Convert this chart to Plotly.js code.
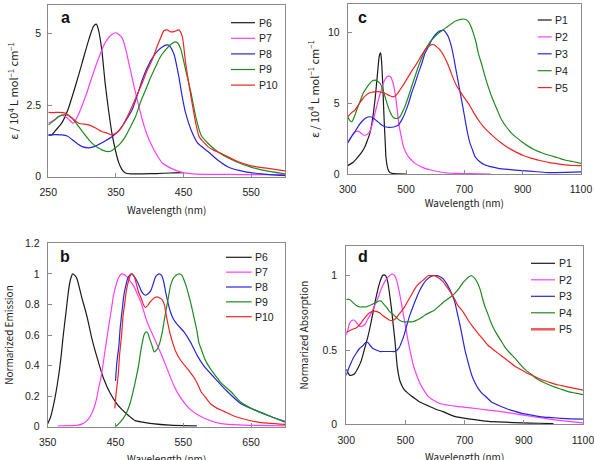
<!DOCTYPE html>
<html>
<head>
<meta charset="utf-8">
<script src="https://cdn.plot.ly/plotly-3.0.1.min.js"></script>
<style>html,body{margin:0;padding:0;background:#fff;}#chart{width:594px;height:460px;}</style>
</head>
<body>
<div id="chart"></div>
<script>
// ---------- Panel a : molar absorptivity (x10^4 L mol-1 cm-1), P6-P10 ----------
const aP6 = [[250,1.45],[255,1.46],[262,1.65],[270,1.88],[279,2.34],[290,3.16],[300,3.98],[310,4.8],[317,5.26],[321,5.33],[324,5.15],[329,4.45],[334,3.28],[339,2.34],[344,1.53],[349,0.95],[354,0.5],[359,0.25],[364,0.13],[372,0.1],[390,0.1],[410,0.11],[430,0.13],[450,0.14]];
const aP7 = [[250,1.87],[260,2.0],[270,2.15],[278,2.05],[287,1.87],[295,2.2],[305,2.8],[312,3.3],[320,3.86],[327,4.3],[334,4.68],[344,4.97],[350,5.03],[359,4.86],[364,4.5],[369,3.98],[374,3.45],[379,2.93],[384,2.45],[389,1.99],[394,1.6],[399,1.29],[409,0.82],[419,0.47],[431,0.3],[445,0.17],[460,0.11],[480,0.08],[520,0.08],[560,0.07],[600,0.07]];
const aP8 = [[250,1.46],[260,1.47],[270,1.46],[278,1.42],[285,1.3],[293,1.15],[300,1.05],[310,1.01],[318,1.05],[324,1.12],[334,1.25],[344,1.4],[352,1.55],[359,1.75],[367,2.05],[374,2.34],[381,2.8],[389,3.39],[396,3.8],[404,4.15],[411,4.38],[419,4.54],[424,4.6],[428,4.6],[431,4.52],[436,4.27],[443,3.5],[448,2.8],[453,2.23],[461,1.64],[471,1.17],[486,0.88],[500,0.59],[515,0.35],[540,0.18],[565,0.1],[600,0.04]];
const aP9 = [[250,1.81],[258,1.95],[265,2.1],[270,2.15],[277,2.17],[285,2.05],[295,1.75],[303,1.5],[310,1.29],[317,1.12],[324,1.0],[330,0.93],[337,0.88],[343,0.9],[349,1.0],[356,1.15],[364,1.4],[371,1.72],[379,2.1],[386,2.58],[394,3.04],[401,3.45],[409,3.86],[416,4.2],[424,4.45],[431,4.62],[437,4.71],[441,4.68],[446,4.45],[453,3.74],[461,2.93],[468,2.1],[476,1.45],[486,1.17],[500,0.88],[520,0.61],[540,0.41],[565,0.24],[600,0.1]];
const aP10 = [[250,2.25],[258,2.24],[265,2.25],[275,2.22],[285,2.05],[295,1.87],[310,1.81],[320,1.7],[329,1.58],[337,1.52],[344,1.46],[352,1.55],[359,1.75],[367,2.1],[374,2.46],[381,2.85],[389,3.28],[396,3.7],[404,4.1],[410,4.5],[416,4.85],[421,5.1],[426,5.13],[431,5.06],[436,5.07],[443,5.13],[448,4.91],[453,3.98],[461,2.8],[468,1.87],[473,1.4],[480,1.2],[486,1.05],[495,0.92],[505,0.82],[530,0.53],[550,0.38],[575,0.29],[600,0.2]];

// ---------- Panel c : molar absorptivity, P1-P5 ----------
const cP1 = [[300,0.59],[320,0.85],[336,1.22],[350,1.6],[359,1.93],[368,2.4],[376,2.87],[383,3.6],[388,4.28],[394,5.3],[399,6.4],[404,7.5],[408,8.28],[411,8.5],[413,8.56],[416,8.0],[420,6.4],[423,4.8],[426,3.34],[429,2.1],[431,1.22],[435,0.6],[439,0.28],[445,0.1],[451,0.05],[470,0.01],[500,0.0]];
const cP2 = [[300,2.2],[310,2.55],[319,2.87],[328,3.0],[336,3.03],[345,2.9],[353,2.75],[362,2.75],[371,2.87],[380,3.2],[388,3.81],[396,4.5],[405,5.22],[414,5.85],[422,6.4],[430,6.75],[437,6.88],[443,6.92],[449,6.8],[454,6.51],[460,6.0],[466,5.22],[471,4.3],[477,3.34],[484,2.6],[491,1.93],[500,1.5],[508,1.22],[520,0.95],[531,0.75],[548,0.55],[565,0.4],[582,0.3],[599,0.21],[634,0.09],[668,0.05],[720,0.02],[790,0.0]];
const cP3 = [[300,2.2],[312,2.6],[325,2.99],[337,3.4],[348,3.69],[362,3.95],[376,4.04],[388,3.95],[399,3.76],[411,3.55],[422,3.39],[436,3.3],[451,3.3],[463,3.35],[474,3.46],[485,3.8],[496,4.28],[508,4.95],[519,5.7],[531,6.4],[542,7.1],[554,7.8],[565,8.52],[577,9.0],[588,9.46],[599,9.8],[611,10.04],[620,10.12],[628,10.16],[636,10.0],[645,9.69],[653,9.2],[662,8.4],[670,7.5],[679,6.5],[687,5.6],[696,4.6],[702,3.9],[710,3.0],[719,2.2],[728,1.7],[737,1.22],[754,0.85],[771,0.64],[794,0.5],[816,0.4],[850,0.32],[897,0.24],[950,0.16],[988,0.1],[1050,0.12],[1100,0.15]];
const cP4 = [[300,4.04],[308,3.75],[314,3.69],[322,4.0],[331,4.52],[342,5.1],[353,5.7],[365,6.1],[376,6.4],[385,6.58],[394,6.63],[402,6.55],[411,6.4],[420,6.0],[428,5.45],[436,4.9],[445,4.4],[454,4.05],[462,3.93],[470,3.93],[479,4.04],[487,4.35],[496,4.75],[508,5.45],[519,6.16],[531,6.9],[542,7.57],[554,8.2],[565,8.75],[577,9.15],[588,9.46],[599,9.7],[611,9.93],[622,10.1],[634,10.28],[645,10.45],[657,10.63],[668,10.78],[679,10.87],[688,10.92],[696,10.94],[705,10.9],[714,10.75],[722,10.45],[731,9.93],[740,9.3],[748,8.52],[760,7.7],[771,6.87],[782,6.15],[794,5.45],[811,4.6],[828,3.81],[845,3.3],[862,2.87],[880,2.55],[897,2.28],[920,1.95],[942,1.69],[965,1.5],[988,1.34],[1020,1.15],[1045,0.99],[1070,0.88],[1100,0.75]];
const cP5 = [[300,4.04],[312,4.3],[325,4.52],[336,4.85],[348,5.22],[362,5.55],[376,5.74],[390,5.8],[405,5.81],[417,5.76],[428,5.7],[442,5.55],[456,5.45],[468,5.6],[479,5.93],[494,6.4],[508,6.87],[522,7.35],[537,7.81],[551,8.3],[565,8.75],[577,9.0],[588,9.13],[597,9.12],[605,8.98],[617,8.75],[628,8.4],[640,7.9],[651,7.34],[662,6.75],[674,6.2],[685,5.85],[696,5.5],[714,4.99],[730,4.4],[748,3.81],[765,3.35],[782,2.99],[805,2.55],[828,2.17],[850,1.85],[874,1.58],[900,1.32],[931,1.1],[960,0.95],[988,0.82],[1020,0.72],[1045,0.64],[1070,0.6],[1100,0.59]];

// ---------- Panel b : normalized emission, P6-P10 ----------
const bP6 = [[350,0.02],[354,0.06],[358,0.13],[362,0.22],[366,0.33],[370,0.47],[373,0.6],[377,0.75],[381,0.9],[384,0.97],[387,1.0],[390,0.99],[393,0.97],[400,0.85],[408,0.72],[415,0.58],[423,0.45],[432,0.32],[442,0.22],[452,0.15],[460,0.11],[470,0.07],[479,0.04],[490,0.03],[504,0.02],[530,0.01],[570,0.005]];
const bP7 = [[365,0.005],[395,0.01],[402,0.02],[408,0.04],[413,0.07],[418,0.12],[422,0.18],[425,0.25],[429,0.33],[432,0.42],[436,0.54],[440,0.66],[444,0.77],[447,0.86],[451,0.93],[454,0.97],[459,1.0],[463,0.995],[467,0.98],[472,0.95],[477,0.92],[482,0.87],[487,0.82],[492,0.75],[497,0.68],[502,0.63],[507,0.58],[512,0.53],[517,0.48],[526,0.38],[536,0.27],[546,0.19],[561,0.11],[581,0.055],[605,0.02],[640,0.01],[700,0.005]];
const bP8 = [[450,0.3],[452,0.42],[455,0.53],[457,0.65],[460,0.77],[462,0.85],[465,0.92],[469,0.98],[474,1.0],[478,0.98],[482,0.95],[486,0.91],[489,0.88],[494,0.86],[498,0.87],[502,0.89],[506,0.94],[509,0.98],[514,1.0],[518,0.99],[521,0.95],[524,0.88],[528,0.8],[531,0.75],[536,0.7],[541,0.67],[551,0.62],[561,0.55],[570,0.47],[580,0.4],[596,0.32],[615,0.23],[635,0.15],[655,0.11],[680,0.065],[700,0.035]];
const bP9 = [[450,0.0],[457,0.03],[465,0.08],[472,0.16],[479,0.29],[484,0.4],[487,0.49],[490,0.56],[492,0.6],[495,0.62],[498,0.61],[500,0.58],[504,0.53],[507,0.49],[510,0.5],[512,0.51],[516,0.56],[519,0.62],[524,0.75],[527,0.82],[531,0.92],[535,0.97],[539,0.99],[544,1.0],[548,0.99],[551,0.96],[555,0.91],[558,0.86],[562,0.79],[566,0.71],[570,0.63],[573,0.55],[577,0.5],[581,0.45],[587,0.4],[593,0.36],[600,0.32],[605,0.29],[620,0.23],[635,0.16],[655,0.11],[680,0.065],[700,0.03]];
const bP10 = [[449,0.12],[451,0.22],[454,0.34],[456,0.47],[459,0.6],[461,0.72],[464,0.82],[466,0.89],[469,0.95],[473,1.0],[476,0.995],[478,0.98],[481,0.93],[484,0.88],[488,0.84],[491,0.8],[494,0.78],[497,0.79],[500,0.81],[504,0.83],[508,0.845],[512,0.85],[516,0.84],[519,0.83],[522,0.8],[524,0.75],[527,0.68],[531,0.6],[535,0.54],[539,0.49],[546,0.435],[556,0.38],[566,0.32],[571,0.28],[576,0.23],[583,0.19],[590,0.15],[600,0.12],[610,0.1],[622,0.075],[635,0.055],[660,0.03],[700,0.015]];

// ---------- Panel d : normalized absorption, P1-P5 ----------
const dP1 = [[300,0.37],[305,0.35],[311,0.33],[318,0.33],[328,0.34],[340,0.38],[351,0.43],[362,0.51],[373,0.59],[382,0.67],[390,0.75],[398,0.83],[407,0.91],[414,0.96],[422,1.0],[428,1.005],[433,1.0],[437,0.98],[441,0.95],[446,0.88],[452,0.79],[458,0.68],[464,0.57],[468,0.48],[472,0.39],[476,0.34],[480,0.3],[488,0.26],[497,0.23],[508,0.21],[520,0.19],[534,0.17],[548,0.15],[565,0.135],[582,0.12],[605,0.1],[627,0.085],[650,0.065],[672,0.05],[720,0.035],[780,0.02],[840,0.014],[893,0.01],[950,0.007],[1000,0.005]];
const dP2 = [[300,0.6],[306,0.64],[311,0.68],[320,0.7],[328,0.7],[336,0.68],[345,0.66],[353,0.66],[362,0.67],[373,0.71],[385,0.75],[396,0.8],[407,0.85],[418,0.91],[430,0.96],[441,0.99],[452,1.01],[458,1.01],[464,1.0],[470,0.97],[475,0.93],[483,0.85],[492,0.75],[500,0.66],[508,0.57],[516,0.49],[525,0.41],[536,0.34],[548,0.28],[562,0.23],[576,0.19],[596,0.16],[616,0.14],[640,0.13],[672,0.12],[720,0.11],[780,0.096],[840,0.08],[893,0.063],[950,0.046],[1005,0.03],[1050,0.02],[1100,0.01]];
const dP3 = [[300,0.33],[305,0.36],[311,0.39],[322,0.44],[334,0.48],[345,0.51],[356,0.53],[365,0.55],[373,0.55],[381,0.53],[390,0.51],[401,0.5],[413,0.49],[424,0.49],[435,0.49],[450,0.49],[464,0.49],[472,0.5],[480,0.52],[488,0.56],[497,0.61],[505,0.67],[514,0.73],[525,0.79],[537,0.85],[548,0.9],[559,0.94],[570,0.97],[582,0.99],[593,1.0],[604,1.0],[615,0.995],[627,0.98],[638,0.95],[649,0.91],[660,0.86],[667,0.82],[675,0.75],[684,0.67],[692,0.59],[701,0.5],[710,0.43],[718,0.37],[726,0.32],[735,0.28],[746,0.24],[758,0.21],[775,0.18],[791,0.15],[812,0.13],[836,0.11],[865,0.09],[893,0.074],[925,0.062],[960,0.05],[995,0.045],[1028,0.04],[1060,0.037],[1100,0.035]];
const dP4 = [[300,0.84],[311,0.84],[322,0.82],[334,0.8],[345,0.79],[356,0.79],[368,0.79],[379,0.8],[390,0.81],[401,0.82],[410,0.83],[418,0.83],[426,0.81],[435,0.79],[446,0.76],[458,0.74],[469,0.72],[480,0.7],[492,0.69],[503,0.69],[514,0.69],[525,0.69],[537,0.7],[548,0.71],[559,0.725],[570,0.74],[585,0.755],[599,0.77],[613,0.795],[627,0.82],[641,0.84],[655,0.86],[668,0.885],[683,0.92],[695,0.955],[705,0.975],[712,0.99],[724,1.0],[735,0.98],[744,0.95],[752,0.91],[760,0.85],[769,0.79],[778,0.745],[786,0.7],[797,0.65],[808,0.61],[822,0.565],[836,0.52],[853,0.48],[870,0.445],[887,0.405],[904,0.37],[926,0.335],[949,0.3],[975,0.275],[1005,0.25],[1028,0.235],[1050,0.22],[1075,0.21],[1100,0.2]];
const dP5 = [[300,0.62],[311,0.63],[322,0.64],[334,0.65],[345,0.67],[356,0.7],[368,0.73],[379,0.75],[390,0.76],[401,0.76],[412,0.75],[424,0.73],[435,0.715],[447,0.7],[458,0.7],[466,0.71],[476,0.735],[486,0.76],[497,0.79],[508,0.83],[520,0.87],[531,0.91],[542,0.94],[554,0.96],[565,0.98],[576,1.0],[588,1.0],[599,1.0],[608,0.99],[616,0.98],[627,0.96],[638,0.93],[647,0.905],[655,0.88],[667,0.84],[677,0.8],[690,0.77],[700,0.74],[712,0.7],[728,0.655],[746,0.61],[763,0.57],[780,0.53],[802,0.495],[825,0.46],[848,0.425],[870,0.39],[893,0.365],[915,0.34],[938,0.32],[960,0.3],[983,0.285],[1005,0.27],[1028,0.26],[1050,0.25],[1075,0.24],[1100,0.23]];

// ---------- names, colours, ticks, titles ----------
const namesAB = ['P6','P7','P8','P9','P10'];
const namesCD = ['P1','P2','P3','P4','P5'];
const colors = ['#1a1a1a','#ff3cff','#2626dd','#1f8a1f','#f02424'];
const ticksA_x = [250,350,450,550];
const ticksA_y = [0,2.5,5];
const ticksB_x = [350,450,550,650];
const ticksB_y = [0,0.2,0.4,0.6,0.8,1,1.2];
const ticksCD_x = [300,500,700,900,1100];
const ticksC_y = [0,5,10];
const ticksD_y = [0,0.5,1];
const xTitle = 'Wavelength (nm)';
const epsTitle = 'ε / 10<sup>4</sup> L mol<sup>−1</sup> cm<sup>−1</sup>';
const emTitle = 'Normarized Emission';
const abTitle = 'Normarized Absorption';

const W = 594, H = 460;
const fx = p => p / W;
const fy = p => 1 - p / H;

const panels = [
  {series:[aP6,aP7,aP8,aP9,aP10], names:namesAB, xa:'x',  ya:'y'},
  {series:[cP1,cP2,cP3,cP4,cP5], names:namesCD, xa:'x2', ya:'y2'},
  {series:[bP6,bP7,bP8,bP9,bP10], names:namesAB, xa:'x3', ya:'y3'},
  {series:[dP1,dP2,dP3,dP4,dP5], names:namesCD, xa:'x4', ya:'y4'}
];

const traces = [];
panels.forEach(p => {
  p.series.forEach((s, i) => {
    traces.push({
      type:'scatter', mode:'lines', name:p.names[i],
      x:s.map(v => v[0]), y:s.map(v => v[1]),
      xaxis:p.xa, yaxis:p.ya,
      line:{color:colors[i], width:1.2, shape:'spline', smoothing:0.6},
      showlegend:false, hoverinfo:'x+y+name'
    });
  });
});

const tickFont = {family:'Liberation Sans, Arial, sans-serif', size:10.5, color:'#222'};
const titleFont = {family:'Noto Sans CJK JP, Liberation Sans, sans-serif', size:10, color:'#222'};
const epsFont = {family:'Noto Sans CJK JP, Liberation Sans, sans-serif', size:11, color:'#222'};
function ax(extra){
  return Object.assign({
    showline:true, mirror:true, linecolor:'#8a8a8a', linewidth:1,
    ticks:'inside', ticklen:4, tickcolor:'#8a8a8a', tickwidth:1,
    showgrid:false, zeroline:false, tickfont:tickFont, fixedrange:true,
    ticklabeloverflow:'allow'
  }, extra);
}

const layout = {
  width:W, height:H, margin:{l:0,r:0,t:0,b:0},
  paper_bgcolor:'#fff', plot_bgcolor:'#fff', showlegend:false,
  xaxis: ax({domain:[fx(48.3),fx(285)], range:[250,600], tickvals:ticksA_x, anchor:'y', ticklabelstandoff:6,
    title:{text:xTitle, font:titleFont, standoff:9}}),
  yaxis: ax({domain:[fy(176.7),fy(5)], range:[0,6], tickvals:ticksA_y, anchor:'x', ticklabelstandoff:4,
    title:{text:epsTitle, font:epsFont, standoff:5}}),
  xaxis2: ax({domain:[fx(347.7),fx(581)], range:[300,1100], tickvals:ticksCD_x, anchor:'y2', ticklabelstandoff:5,
    title:{text:xTitle, font:titleFont, standoff:5}}),
  yaxis2: ax({domain:[fy(174),fy(4)], range:[0,12], tickvals:ticksC_y, anchor:'x2', ticklabelstandoff:5,
    title:{text:epsTitle, font:epsFont, standoff:6}}),
  xaxis3: ax({domain:[fx(47.7),fx(285)], range:[350,700], tickvals:ticksB_x, anchor:'y3', ticklabelstandoff:6}),
  yaxis3: ax({domain:[fy(426.7),fy(243.3)], range:[0,1.2], tickvals:ticksB_y, anchor:'x3', ticklabelstandoff:5,
    title:{text:emTitle, font:titleFont, standoff:9}}),
  xaxis4: ax({domain:[fx(346.3),fx(583)], range:[300,1100], tickvals:ticksCD_x, anchor:'y4', ticklabelstandoff:6}),
  yaxis4: ax({domain:[fy(424.3),fy(246)], range:[0,1.2], tickvals:ticksD_y, anchor:'x4', ticklabelstandoff:6,
    title:{text:abTitle, font:titleFont, standoff:12}}),
  shapes:[], annotations:[]
};

// bottom x titles of panels b and d sit at the page edge (slightly cut off, as in the original)
[[166.4,458.5],[464.6,456.5]].forEach(t => {
  layout.annotations.push({text:xTitle, xref:'paper', yref:'paper', x:fx(t[0]), y:fy(t[1]),
    xanchor:'center', yanchor:'middle', showarrow:false, font:titleFont});
});

// panel letters
[['a',65,17.3],['c',362.7,17.3],['b',65,256.7],['d',362.7,256.7]].forEach(l => {
  layout.annotations.push({text:'<b>'+l[0]+'</b>', xref:'paper', yref:'paper', x:fx(l[1]), y:fy(l[2]),
    xanchor:'center', yanchor:'middle', showarrow:false,
    font:{family:'Liberation Sans, Arial, sans-serif', size:16, color:'#111'}});
});

// legends (line sample + label) for each panel
const legends = [
  {names:namesAB, x0:231, x1:255, tx:257, y0:22.7, dy:15.6},
  {names:namesCD, x0:537.7, x1:551.7, tx:553.3, y0:20, dy:16.9},
  {names:namesAB, x0:226, x1:251.7, tx:253.3, y0:257.3, dy:14.85},
  {names:namesCD, x0:531, x1:555, tx:556.7, y0:263.3, dy:16.5}
];
legends.forEach((lg, li) => {
  lg.names.forEach((n, i) => {
    const yy = lg.y0 + i * lg.dy;
    const thick = (li === 3 && i === 4);
    layout.shapes.push({type:'line', xref:'paper', yref:'paper', x0:fx(lg.x0), x1:fx(lg.x1), y0:fy(yy), y1:fy(yy),
      line:{color: thick ? '#f05a5a' : colors[i], width: thick ? 2.5 : 1.2}});
    layout.annotations.push({text:n, xref:'paper', yref:'paper', x:fx(lg.tx), y:fy(yy), xanchor:'left', yanchor:'middle',
      showarrow:false, font:{family:'Liberation Sans, Arial, sans-serif', size:10.5, color:'#222'}});
  });
});

Plotly.newPlot('chart', traces, layout, {displayModeBar:false, staticPlot:true});
</script>
</body>
</html>
